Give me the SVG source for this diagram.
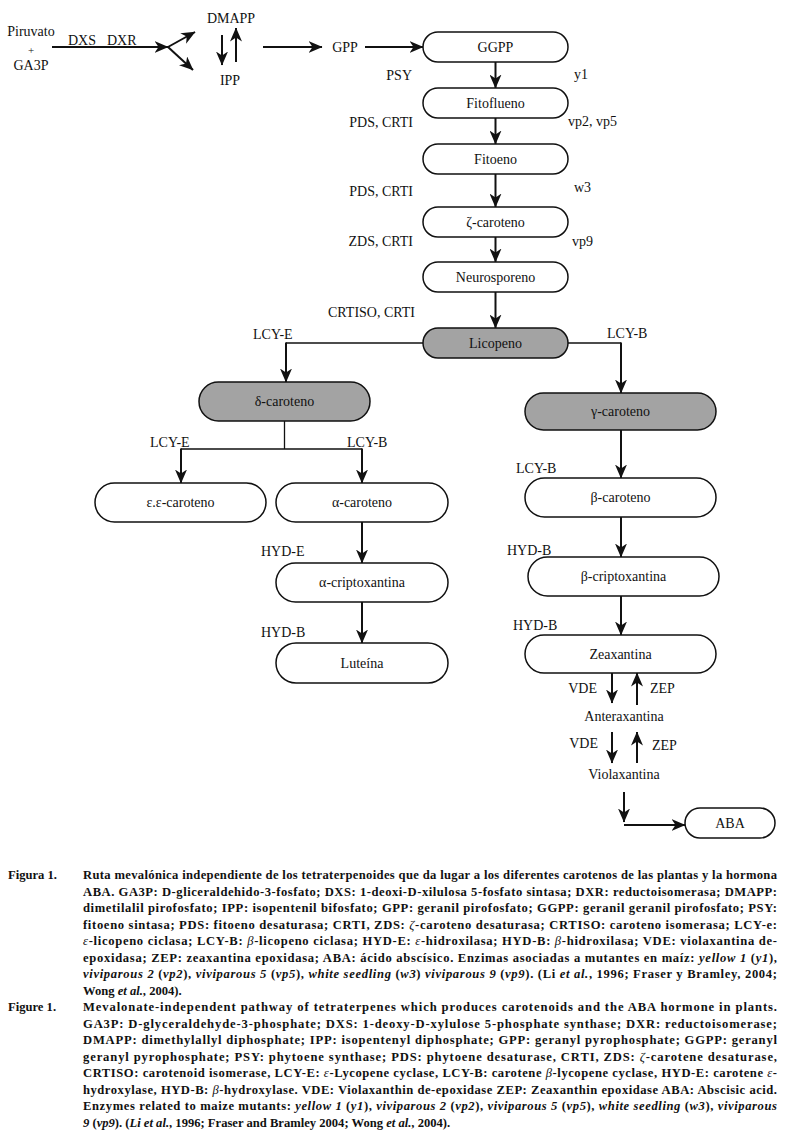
<svg xmlns="http://www.w3.org/2000/svg" width="785" height="1139" viewBox="0 0 785 1139">
<defs>
<marker id="ah" viewBox="0 0 14 12" markerWidth="14" markerHeight="12" refX="13.5" refY="6" orient="auto" markerUnits="userSpaceOnUse">
<path d="M0,0 L14,6 L0,12 L4,6 z" fill="#111"/>
</marker>
</defs>
<style>
text{font-family:"Liberation Serif","Times New Roman",serif;fill:#111}
.lb{font-size:14px}
.nl{font-size:14px;text-anchor:middle}
.node rect{stroke:#111;stroke-width:1.5}
.w rect{fill:#fff}
.g rect{fill:#a3a3a3}
.ar{stroke:#111;stroke-width:2;fill:none;marker-end:url(#ah)}
.th{stroke:#111;stroke-width:1.3;fill:none}
.cap{font-size:12.6px;font-weight:bold}
.it{font-style:italic}
.gk{font-style:italic;font-weight:normal}
</style>
<rect width="785" height="1139" fill="#fff"/>

<g id="connectors">
<path class="ar" d="M52,47 H168"/>
<path class="ar" d="M168,47 L195,32"/>
<path class="ar" d="M168,47 L193,70"/>
<path class="ar" d="M222,35 V65"/>
<path class="ar" d="M236,62 V28"/>
<path class="ar" d="M263,47 H322"/>
<path class="ar" d="M365,47 H423"/>
<path class="ar" d="M495.5,62 V88"/>
<path class="ar" d="M495.5,118 V144"/>
<path class="ar" d="M495.5,174 V207"/>
<path class="ar" d="M495.5,237 V262"/>
<path class="ar" d="M495.5,292 V328"/>
<path class="th" d="M423,343 H286"/>
<path class="ar" d="M286,342.4 V382"/>
<path class="th" d="M284.5,421 V449 M181,449 H362"/>
<path class="ar" d="M181,448.4 V483"/>
<path class="ar" d="M362,448.4 V483"/>
<path class="ar" d="M362,522 V563"/>
<path class="ar" d="M362,602 V643"/>
<path class="th" d="M568,343 H621"/>
<path class="ar" d="M621,342.4 V393"/>
<path class="ar" d="M621,430 V478"/>
<path class="ar" d="M621,517 V557"/>
<path class="ar" d="M621,596 V635"/>
<path class="ar" d="M612,673 V703"/>
<path class="ar" d="M637,705 V673"/>
<path class="ar" d="M612,732 V763"/>
<path class="ar" d="M637,763 V732"/>
<path class="ar" d="M624,792 V822"/>
<path class="ar" d="M624,825 H685"/>
</g>

<g id="n-start">
<text class="nl" x="31" y="36">Piruvato</text>
<text class="nl" x="31" y="54" style="font-size:11px">+</text>
<text class="nl" x="31" y="70">GA3P</text>
</g>
<g id="lbl-dxs"><text class="lb" x="68" y="45">DXS</text><text class="lb" x="107" y="45">DXR</text></g>
<g id="n-dmapp"><text class="nl" x="231" y="23">DMAPP</text></g>
<g id="n-ipp"><text class="nl" x="230" y="85">IPP</text></g>
<g id="n-gpp"><text class="nl" x="345" y="52">GPP</text></g>

<g id="n-ggpp" class="node w"><rect x="423" y="32" width="145" height="30" rx="15"/><text class="nl" x="495.5" y="52">GGPP</text></g>
<g id="n-fitoflueno" class="node w"><rect x="423" y="88" width="145" height="30" rx="15"/><text class="nl" x="495.5" y="108">Fitoflueno</text></g>
<g id="n-fitoeno" class="node w"><rect x="423" y="144" width="145" height="30" rx="15"/><text class="nl" x="495.5" y="164">Fitoeno</text></g>
<g id="n-zeta" class="node w"><rect x="423" y="207" width="145" height="30" rx="15"/><text class="nl" x="495.5" y="227">ζ-caroteno</text></g>
<g id="n-neuro" class="node w"><rect x="423" y="262" width="145" height="30" rx="15"/><text class="nl" x="495.5" y="282">Neurosporeno</text></g>
<g id="n-licopeno" class="node g"><rect x="423" y="328" width="145" height="30" rx="15"/><text class="nl" x="495.5" y="348">Licopeno</text></g>

<g id="labels-main">
<text class="lb" x="412" y="80" text-anchor="end">PSY</text>
<text class="lb" x="413" y="127" text-anchor="end">PDS, CRTI</text>
<text class="lb" x="413" y="196" text-anchor="end">PDS, CRTI</text>
<text class="lb" x="413" y="246" text-anchor="end">ZDS, CRTI</text>
<text class="lb" x="415" y="317" text-anchor="end">CRTISO, CRTI</text>
<text class="lb" x="574" y="79">y1</text>
<text class="lb" x="568" y="126">vp2, vp5</text>
<text class="lb" x="574" y="192">w3</text>
<text class="lb" x="572" y="246">vp9</text>
</g>

<g id="n-delta" class="node g"><rect x="199" y="382" width="171" height="39" rx="19.5"/><text class="nl" x="284.5" y="406">δ-caroteno</text></g>
<g id="n-epsilon" class="node w"><rect x="95" y="483" width="171" height="39" rx="19.5"/><text class="nl" x="180.5" y="507">ε.ε-caroteno</text></g>
<g id="n-alfa" class="node w"><rect x="276" y="483" width="172" height="39" rx="19.5"/><text class="nl" x="362" y="507">α-caroteno</text></g>
<g id="n-alfacrip" class="node w"><rect x="276" y="563" width="172" height="39" rx="19.5"/><text class="nl" x="362" y="587">α-criptoxantina</text></g>
<g id="n-luteina" class="node w"><rect x="276" y="643" width="172" height="40" rx="20"/><text class="nl" x="362" y="668">Luteína</text></g>

<g id="labels-left">
<text class="lb" x="253" y="339">LCY-E</text>
<text class="lb" x="150" y="447">LCY-E</text>
<text class="lb" x="347" y="447">LCY-B</text>
<text class="lb" x="261" y="556">HYD-E</text>
<text class="lb" x="261" y="637">HYD-B</text>
</g>

<g id="n-gamma" class="node g"><rect x="525" y="393" width="191" height="37" rx="18.5"/><text class="nl" x="620.5" y="416">γ-caroteno</text></g>
<g id="n-beta" class="node w"><rect x="525" y="478" width="191" height="39" rx="19.5"/><text class="nl" x="620.5" y="502">β-caroteno</text></g>
<g id="n-betacrip" class="node w"><rect x="528" y="557" width="191" height="39" rx="19.5"/><text class="nl" x="623.5" y="581">β-criptoxantina</text></g>
<g id="n-zea" class="node w"><rect x="525" y="635" width="191" height="38" rx="19"/><text class="nl" x="620.5" y="659">Zeaxantina</text></g>
<g id="n-antera"><text class="nl" x="624" y="721">Anteraxantina</text></g>
<g id="n-viola"><text class="nl" x="624" y="779">Violaxantina</text></g>
<g id="n-aba" class="node w"><rect x="685" y="808" width="90" height="30" rx="15"/><text class="nl" x="730" y="828">ABA</text></g>

<g id="labels-right">
<text class="lb" x="607" y="338">LCY-B</text>
<text class="lb" x="516" y="473">LCY-B</text>
<text class="lb" x="507" y="555">HYD-B</text>
<text class="lb" x="513" y="630">HYD-B</text>
<text class="lb" x="597" y="693" text-anchor="end">VDE</text>
<text class="lb" x="650" y="693">ZEP</text>
<text class="lb" x="598" y="748" text-anchor="end">VDE</text>
<text class="lb" x="652" y="750">ZEP</text>
</g>

<g id="caption-es">
<text class="cap" x="8" y="879">Figura 1.</text>
<text class="cap" x="83" y="879" textLength="694" lengthAdjust="spacing">Ruta mevalónica independiente de los tetraterpenoides que da lugar a los diferentes carotenos de las plantas y la hormona</text>
<text class="cap" x="83" y="895.5" textLength="694" lengthAdjust="spacing">ABA. GA3P: D-gliceraldehido-3-fosfato; DXS: 1-deoxi-D-xilulosa 5-fosfato sintasa; DXR: reductoisomerasa; DMAPP:</text>
<text class="cap" x="83" y="912" textLength="694" lengthAdjust="spacing">dimetilalil pirofosfato; IPP: isopentenil bifosfato; GPP: geranil pirofosfato; GGPP: geranil geranil pirofosfato; PSY:</text>
<text class="cap" x="83" y="928.5" textLength="694" lengthAdjust="spacing">fitoeno sintasa; PDS: fitoeno desaturasa; CRTI, ZDS: <tspan class="gk">ζ</tspan>-caroteno desaturasa; CRTISO: caroteno isomerasa; LCY-e:</text>
<text class="cap" x="83" y="945" textLength="694" lengthAdjust="spacing"><tspan class="gk">ε</tspan>-licopeno ciclasa; LCY-B: <tspan class="gk">β</tspan>-licopeno ciclasa; HYD-E: <tspan class="gk">ε</tspan>-hidroxilasa; HYD-B: <tspan class="gk">β</tspan>-hidroxilasa; VDE: violaxantina de-</text>
<text class="cap" x="83" y="961.5" textLength="694" lengthAdjust="spacing">epoxidasa; ZEP: zeaxantina epoxidasa; ABA: ácido abscísico. Enzimas asociadas a mutantes en maíz: <tspan class="it">yellow 1</tspan> (<tspan class="it">y1</tspan>),</text>
<text class="cap" x="83" y="978" textLength="694" lengthAdjust="spacing"><tspan class="it">viviparous 2</tspan> (<tspan class="it">vp2</tspan>), <tspan class="it">viviparous 5</tspan> (<tspan class="it">vp5</tspan>), <tspan class="it">white seedling</tspan> (<tspan class="it">w3</tspan>) <tspan class="it">viviparous 9</tspan> (<tspan class="it">vp9</tspan>). (Li <tspan class="it">et al.</tspan>, 1996; Fraser y Bramley, 2004;</text>
<text class="cap" x="83" y="994.5">Wong <tspan class="it">et al.</tspan>, 2004).</text>
</g>

<g id="caption-en">
<text class="cap" x="8" y="1011">Figure 1.</text>
<text class="cap" x="83" y="1011" textLength="694" lengthAdjust="spacing">Mevalonate-independent pathway of tetraterpenes which produces carotenoids and the ABA hormone in plants.</text>
<text class="cap" x="83" y="1027.5" textLength="694" lengthAdjust="spacing">GA3P: D-glyceraldehyde-3-phosphate; DXS: 1-deoxy-D-xylulose 5-phosphate synthase; DXR: reductoisomerase;</text>
<text class="cap" x="83" y="1044" textLength="694" lengthAdjust="spacing">DMAPP: dimethylallyl diphosphate; IPP: isopentenyl diphosphate; GPP: geranyl pyrophosphate; GGPP: geranyl</text>
<text class="cap" x="83" y="1060.5" textLength="694" lengthAdjust="spacing">geranyl pyrophosphate; PSY: phytoene synthase; PDS: phytoene desaturase, CRTI, ZDS: <tspan class="gk">ζ</tspan>-carotene desaturase,</text>
<text class="cap" x="83" y="1077" textLength="694" lengthAdjust="spacing">CRTISO: carotenoid isomerase, LCY-E: <tspan class="gk">ε</tspan>-Lycopene cyclase, LCY-B: carotene <tspan class="gk">β</tspan>-lycopene cyclase, HYD-E: carotene <tspan class="gk">ε</tspan>-</text>
<text class="cap" x="83" y="1093.5" textLength="694" lengthAdjust="spacing">hydroxylase, HYD-B: <tspan class="gk">β</tspan>-hydroxylase. VDE: Violaxanthin de-epoxidase ZEP: Zeaxanthin epoxidase ABA: Abscisic acid.</text>
<text class="cap" x="83" y="1110" textLength="694" lengthAdjust="spacing">Enzymes related to maize mutants: <tspan class="it">yellow 1</tspan> (<tspan class="it">y1</tspan>), <tspan class="it">viviparous 2</tspan> (<tspan class="it">vp2</tspan>), <tspan class="it">viviparous 5</tspan> (<tspan class="it">vp5</tspan>), <tspan class="it">white seedling</tspan> (<tspan class="it">w3</tspan>), <tspan class="it">viviparous</tspan></text>
<text class="cap" x="83" y="1126.5"><tspan class="it">9</tspan> (<tspan class="it">vp9</tspan>). (<tspan class="it">Li et al.</tspan>, 1996; Fraser and Bramley 2004; Wong <tspan class="it">et al.</tspan>, 2004).</text>
</g>
</svg>
